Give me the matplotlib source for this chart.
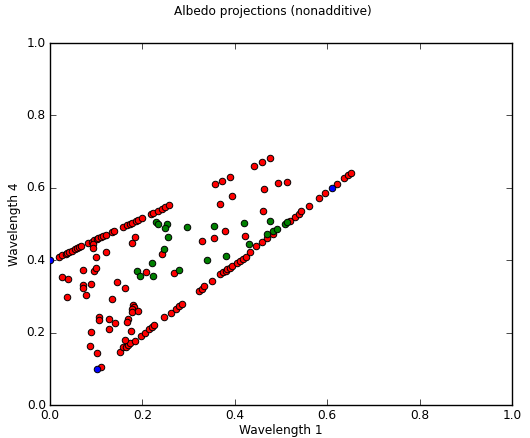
import matplotlib
matplotlib.use("Agg")
import matplotlib.pyplot as plt

# red points: upper band, lower diagonal, scattered ones in between
red_x = [0.020, 0.026, 0.035, 0.037, 0.041, 0.048, 0.054, 0.058, 0.063, 0.067,
         0.082, 0.091, 0.095, 0.102, 0.104, 0.110, 0.115, 0.121, 0.134, 0.139,
         0.158, 0.167, 0.173, 0.177, 0.186, 0.190, 0.199, 0.219, 0.223, 0.234,
         0.242, 0.249, 0.258,
         0.110, 0.152, 0.157, 0.165, 0.169, 0.174, 0.183, 0.196, 0.205, 0.214,
         0.221, 0.225, 0.247, 0.261, 0.272, 0.280, 0.286, 0.323, 0.328, 0.334,
         0.350, 0.369, 0.374, 0.380, 0.384, 0.390, 0.395, 0.404, 0.411, 0.418,
         0.424, 0.434, 0.447, 0.458, 0.469, 0.482, 0.519, 0.531, 0.539, 0.544,
         0.561, 0.583, 0.596, 0.622, 0.637, 0.646, 0.651,
         0.094, 0.094, 0.100, 0.121, 0.071, 0.095, 0.100, 0.027, 0.038, 0.071,
         0.071, 0.088, 0.079, 0.037, 0.144, 0.163, 0.135, 0.106, 0.106, 0.128,
         0.127, 0.141, 0.089, 0.086, 0.101, 0.179, 0.182, 0.177, 0.177, 0.190,
         0.169, 0.167, 0.175, 0.162, 0.177, 0.185, 0.208, 0.243, 0.269, 0.328,
         0.354, 0.378, 0.422, 0.357, 0.373, 0.390, 0.441, 0.459, 0.477, 0.394,
         0.369, 0.463, 0.494, 0.513, 0.461]
red_y = [0.409, 0.414, 0.417, 0.420, 0.423, 0.425, 0.431, 0.434, 0.436, 0.438,
         0.448, 0.450, 0.456, 0.459, 0.461, 0.464, 0.467, 0.470, 0.478, 0.481,
         0.492, 0.497, 0.500, 0.503, 0.508, 0.511, 0.517, 0.528, 0.530, 0.536,
         0.541, 0.547, 0.552,
         0.105, 0.147, 0.159, 0.159, 0.166, 0.170, 0.177, 0.192, 0.199, 0.209,
         0.215, 0.220, 0.242, 0.254, 0.264, 0.273, 0.280, 0.316, 0.321, 0.328,
         0.343, 0.362, 0.367, 0.371, 0.375, 0.379, 0.385, 0.391, 0.398, 0.404,
         0.410, 0.422, 0.439, 0.449, 0.460, 0.472, 0.509, 0.520, 0.529, 0.535,
         0.550, 0.573, 0.586, 0.610, 0.626, 0.635, 0.640,
         0.444, 0.433, 0.410, 0.423, 0.373, 0.371, 0.378, 0.354, 0.349, 0.331,
         0.322, 0.333, 0.305, 0.298, 0.341, 0.324, 0.294, 0.242, 0.234, 0.238,
         0.211, 0.227, 0.202, 0.164, 0.144, 0.275, 0.272, 0.266, 0.256, 0.260,
         0.237, 0.229, 0.205, 0.180, 0.447, 0.463, 0.368, 0.418, 0.365, 0.453,
         0.462, 0.480, 0.467, 0.610, 0.619, 0.630, 0.660, 0.671, 0.681, 0.577,
         0.554, 0.597, 0.612, 0.616, 0.537]

green_x = [0.189, 0.195, 0.224, 0.220, 0.247, 0.256, 0.229, 0.234, 0.253, 0.250,
           0.296, 0.354, 0.419, 0.476, 0.279, 0.339, 0.380, 0.431,
           0.469, 0.483, 0.492, 0.509, 0.514]
green_y = [0.369, 0.357, 0.356, 0.393, 0.431, 0.463, 0.505, 0.501, 0.499, 0.488,
           0.493, 0.495, 0.503, 0.507, 0.374, 0.401, 0.412, 0.446,
           0.472, 0.480, 0.485, 0.500, 0.505]

blue_x = [0.0, 0.102, 0.610]
blue_y = [0.400, 0.099, 0.599]

ticks = [0.0, 0.2, 0.4, 0.6, 0.8, 1.0]

plt.style.use('classic')
plt.rcParams['font.family'] = ['DejaVu Sans']
fs = 8.7

fig = plt.figure(figsize=(5.3, 4.38), dpi=100, facecolor='white')
ax = fig.add_axes([0.0943, 0.0753, 0.8717, 0.8265])
ax.set_facecolor('white')

ax.scatter(red_x, red_y, s=22, c='r', edgecolors='k', linewidths=0.7, zorder=2)
ax.scatter(green_x, green_y, s=22, c=(0, 0.5, 0), edgecolors='k', linewidths=0.7, zorder=3)
ax.scatter(blue_x, blue_y, s=22, c='b', edgecolors='k', linewidths=0.7, zorder=4)

ax.set_xlim(0, 1)
ax.set_ylim(0, 1)
ax.set_xticks(ticks)
ax.set_yticks(ticks)
ax.set_xticklabels([f"{t:.1f}" for t in ticks], fontsize=fs)
ax.set_yticklabels([f"{t:.1f}" for t in ticks], fontsize=fs)
ax.tick_params(direction='in', length=4, top=True, right=True, pad=3)
ax.set_xlabel("Wavelength 1", fontsize=fs, labelpad=1)
ax.set_ylabel("Wavelength 4", fontsize=fs, labelpad=4)

fig.text(0.515, 0.973, "Albedo projections (nonadditive)", fontsize=fs,
         ha='center', va='center')

fig.savefig("out.png", dpi=100, facecolor='white')
